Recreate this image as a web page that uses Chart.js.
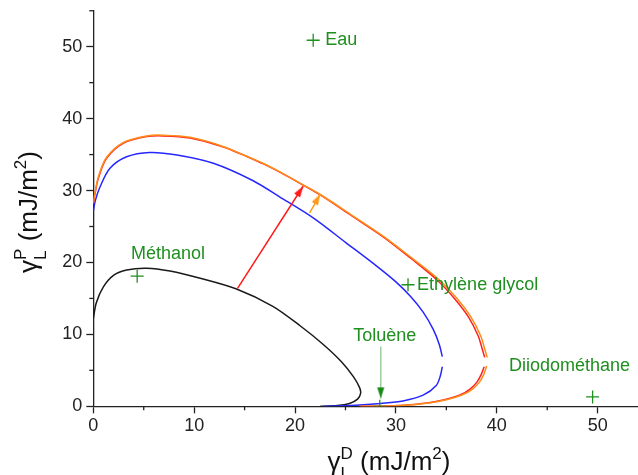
<!DOCTYPE html>
<html><head><meta charset="utf-8">
<script src="https://cdn.jsdelivr.net/npm/chart.js@4.4.0/dist/chart.umd.min.js"></script>
<style>html,body{margin:0;padding:0;background:#fff;}canvas{display:block;}</style>
</head><body>
<canvas id="c" width="638" height="475"></canvas>
<script>
// ---- data ----
const blackEnvelope = [[0,12.2],[0.3,14.4],[1.0,16.6],[2.0,18.2],[3.3,18.95],[5.3,19.2],[7.6,18.8],[10.6,17.8],[14.2,16.3],[17.8,13.9],[20.5,11.2],[22.8,8.6],[24.6,6.2],[25.8,4.1],[26.4,2.6],[26.5,1.8],[26.2,1.0],[25.4,0.4],[24.2,0.1],[22.5,0]];
const blueUpper = [[0,27.1],[0.2,28.6],[0.66,30.5],[1.65,33.1],[3.3,34.7],[5.6,35.3],[8.3,34.95],[11.9,33.8],[15.8,31.4],[18.5,29.1],[21.8,26.2],[25.0,22.8],[28.0,19.6],[30.0,17.3],[31.5,15.2],[32.7,13.1],[33.7,10.7],[34.3,8.6],[34.6,6.9]];
const blueLower = [[34.6,5.5],[34.4,4.2],[34.0,2.9],[32.7,1.55],[30.7,0.75],[28.5,0.4],[26.4,0.18],[24.2,0.05],[22.8,0]];
const orangeUpper = [[0,28.3],[0.15,29.6],[0.5,31.9],[1.3,34.6],[3.0,36.7],[5.3,37.6],[6.9,37.7],[9.6,37.4],[12.9,36.1],[16.8,33.8],[18.5,32.6],[20.8,30.8],[22.5,29.45],[25.5,26.7],[28.8,23.6],[31.6,20.6],[34.2,17.7],[36.0,15.1],[37.4,12.5],[38.4,9.8],[38.8,8.0],[39.05,6.8]];
const orangeLower = [[39.0,5.6],[38.7,4.4],[38.3,3.4],[37.6,2.4],[36.6,1.6],[35.0,0.9],[33.3,0.45],[31.0,0.15],[28.5,0.02],[26.5,0]];
const redUpper = [[0,28.1],[0.15,29.4],[0.5,31.7],[1.3,34.45],[3.0,36.6],[5.3,37.5],[6.9,37.6],[9.6,37.3],[12.9,36.05],[16.8,33.75],[18.5,32.55],[20.8,30.75],[22.5,29.4],[25.5,26.6],[28.8,23.5],[31.6,20.45],[34.05,17.6],[35.8,15.0],[37.2,12.4],[38.15,9.8],[38.55,8.0],[38.8,6.8]];
const redLower = [[38.75,5.5],[38.45,4.4],[38.05,3.4],[37.35,2.4],[36.4,1.6],[34.8,0.9],[33.1,0.45],[30.8,0.15],[28.4,0.02],[26.4,0]];

const liquidNames = ['Eau','Méthanol','Ethylène glycol','Toluène','Diiodométhane'];
const liquidD = [21.8, 4.35, 31.2, 28.4, 49.5];
const liquidP = [50.9, 18.1, 16.9, 0, 1.3];

// label anchors in data units
const labelX = [23.0, 7.4, 32.1, 28.9, 41.2];
const labelY = [50.9, 20.45, 16.9, 9.1, 4.95];
const labelAlign = ['left','center','left','center','left'];
const labelBase = ['middle','alphabetic','middle','alphabetic','alphabetic'];

const redArrow = [[14.3,16.4],[20.8,30.6]];
const orangeArrow = [[21.45,26.9],[22.5,29.5]];
const greenArrow = [[28.5,8.3],[28.5,1.1]];

const xMin = 0, xMax = 54, yMin = 0, yMax = 55, tickStep = 5, labelStep = 10;

// ---- styles ----
const FONT = '"Liberation Sans", Arial, Helvetica, sans-serif';
const GREEN = '#1f8f1f';
const pts = a => a.map(p => ({x:p[0], y:p[1]}));

function makeHead(color, len, half){
  const s = Math.ceil(len)*2 + 2;
  const c = document.createElement('canvas'); c.width = s; c.height = s;
  const g = c.getContext('2d'); g.fillStyle = color;
  g.beginPath(); g.moveTo(s/2, s/2); g.lineTo(s/2+half, s/2+len); g.lineTo(s/2-half, s/2+len); g.closePath(); g.fill();
  return c;
}
function arrowRotation(c){
  const ch = c.chart, d = c.dataset.data;
  const xs = ch.scales.x, ys = ch.scales.y;
  const x0 = xs.getPixelForValue(d[0].x), y0 = ys.getPixelForValue(d[0].y);
  const x1 = xs.getPixelForValue(d[1].x), y1 = ys.getPixelForValue(d[1].y);
  return Math.atan2(x1-x0, -(y1-y0))*180/Math.PI;
}
function curve(data, color, order){
  return {data: pts(data), showLine:true, borderColor:color, borderWidth:1.5, pointRadius:0, tension:0.3, fill:false, order};
}
function arrow(data, lineColor, headColor, order){
  return {data: pts(data), showLine:true, borderColor:lineColor, borderWidth:1.5, tension:0,
    pointRadius:[0,6], pointStyle:['circle', makeHead(headColor, 11, 3.6)], pointRotation: arrowRotation, order};
}

const datasets = [
  {data: liquidD.map((d,i)=>({x:d, y:liquidP[i]})), showLine:false, pointStyle:'cross', pointRadius:6.5,
   borderColor:GREEN, pointBorderWidth:1.3, clip:0, order:0},
  arrow(greenArrow, 'rgba(40,150,40,0.45)', '#1a8a1a', 1),
  arrow(redArrow, '#ff1a1a', '#ff1a1a', 2),
  arrow(orangeArrow, '#ff9a1a', '#ff9a1a', 3),
  curve(orangeUpper, '#ff8c1a', 4),
  curve(orangeLower, '#ff8c1a', 4),
  curve(redUpper, '#ff2020', 5),
  curve(redLower, '#ff2020', 5),
  curve(blueUpper, '#2626ff', 6),
  curve(blueLower, '#2626ff', 6),
  curve(blackEnvelope, '#1a1a1a', 7)
];

const extras = {
  id:'extras',
  afterDraw(chart){
    const ctx = chart.ctx, xs = chart.scales.x, ys = chart.scales.y, a = chart.chartArea;
    ctx.save();
    // minor ticks
    ctx.strokeStyle = '#222'; ctx.lineWidth = 1.3;
    xs.ticks.forEach(t => { if (t.value % labelStep !== 0){ const p = xs.getPixelForValue(t.value); ctx.beginPath(); ctx.moveTo(p, a.bottom); ctx.lineTo(p, a.bottom+4); ctx.stroke(); }});
    ys.ticks.forEach(t => { if (t.value % labelStep !== 0){ const p = ys.getPixelForValue(t.value); ctx.beginPath(); ctx.moveTo(a.left, p); ctx.lineTo(a.left-4, p); ctx.stroke(); }});
    // liquid labels
    ctx.fillStyle = GREEN; ctx.font = '18px ' + FONT;
    liquidNames.forEach((n,i) => {
      ctx.textAlign = labelAlign[i]; ctx.textBaseline = labelBase[i];
      ctx.fillText(n, xs.getPixelForValue(labelX[i]), ys.getPixelForValue(labelY[i]));
    });
    // axis titles
    drawTitle(ctx, 389, 470, 'L', 'D', false);
    drawTitle(ctx, 37, 212, 'L', 'P', true);
    ctx.restore();
  }
};
function drawTitle(ctx, cx, base, sub, sup, rotate){
  const big = '26px ' + FONT, small = '17px ' + FONT;
  ctx.save();
  ctx.fillStyle = '#111'; ctx.textAlign = 'left'; ctx.textBaseline = 'alphabetic';
  ctx.font = big; const wg = ctx.measureText('γ').width, w1 = ctx.measureText(' (mJ/m').width, w3 = ctx.measureText(')').width;
  ctx.font = small; const ws = Math.max(ctx.measureText(sub).width, ctx.measureText(sup).width), w2 = ctx.measureText('2').width;
  const total = wg + ws + w1 + w2 + w3;
  if (rotate){ ctx.translate(cx, base); ctx.rotate(-Math.PI/2); } else { ctx.translate(cx, base); }
  let x = -total/2;
  ctx.font = big; ctx.fillText('γ', x, 0); x += wg;
  ctx.font = small; ctx.fillText(sup, x, -11); ctx.fillText(sub, x, 9); x += ws;
  ctx.font = big; ctx.fillText(' (mJ/m', x, 0); x += w1;
  ctx.font = small; ctx.fillText('2', x, -11); x += w2;
  ctx.font = big; ctx.fillText(')', x, 0);
  ctx.restore();
}

function tickCb(v){ return (v % labelStep === 0) ? String(v) : ''; }
function tickColor(c){ return (c.tick && c.tick.value % labelStep === 0) ? '#222' : 'rgba(0,0,0,0)'; }

new Chart(document.getElementById('c'), {
  type:'scatter',
  data:{datasets},
  options:{
    responsive:false, animation:false, events:[], devicePixelRatio:1,
    layout:{autoPadding:false, padding:{top:10, right:0, bottom:0, left:0}},
    plugins:{legend:{display:false}, tooltip:{enabled:false}},
    scales:{
      x:{type:'linear', min:xMin, max:xMax,
        ticks:{stepSize:tickStep, includeBounds:false, callback:tickCb, color:'#222', font:{family:FONT, size:18}, padding:2, maxRotation:0, autoSkip:false},
        grid:{drawOnChartArea:false, drawTicks:true, tickLength:7, tickWidth:1.3, tickColor:tickColor},
        border:{display:true, color:'#222', width:1.3},
        afterFit(s){ s.height = 68.7; }},
      y:{type:'linear', min:yMin, max:yMax,
        ticks:{stepSize:tickStep, includeBounds:false, callback:tickCb, color:'#222', font:{family:FONT, size:18, lineHeight:0.75}, padding:4, autoSkip:false},
        grid:{drawOnChartArea:false, drawTicks:true, tickLength:7, tickWidth:1.3, tickColor:tickColor},
        border:{display:true, color:'#222', width:1.3},
        afterFit(s){ s.width = 93.3; }}
    }
  },
  plugins:[extras]
});
</script>
</body></html>
